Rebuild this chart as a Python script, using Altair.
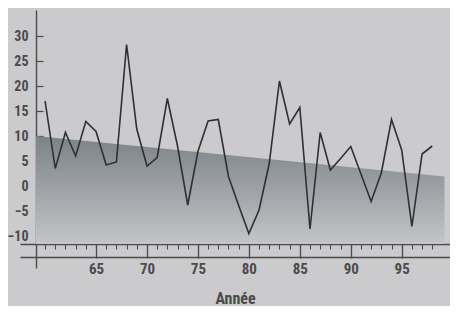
import altair as alt
import pandas as pd

# ---- data ----
years = list(range(60, 99))
values = [17.0, 3.5, 10.7, 6.0, 12.9, 10.9, 4.2, 4.8, 28.3, 11.4,
          4.0, 5.7, 17.5, 8.0, -3.8, 6.9, 13.0, 13.3, 1.9, -3.9,
          -9.5, -4.8, 4.5, 21.0, 12.4, 15.7, -8.6, 10.7, 3.2, 5.5,
          7.9, 2.4, -3.1, 2.6, 13.3, 7.2, -8.1, 6.4, 8.0]
trend_years = [59.1, 99.2]
trend_values = [10.0, 1.9]
trend_base = -11.6
major_ticks = [65, 70, 75, 80, 85, 90, 95]
minor_ticks = list(range(60, 99))
y_ticks = [30, 25, 20, 15, 10, 5, 0, -5, -10]

line_df = pd.DataFrame({"year": years, "value": values})
trend_df = pd.DataFrame({"year": trend_years, "value": trend_values})

INK = "#4a4a4a"
LABEL_FONT = ("Roboto Condensed, Noto Sans Condensed, Liberation Sans Narrow, "
              "DejaVu Sans Condensed, sans-serif")

xs = alt.Scale(domain=[57.54, 99.74], nice=False, zero=False)
ys = alt.Scale(domain=[-16.4, 35.2], nice=False, zero=False)

grad = alt.Gradient(
    gradient="linear", x1=0, y1=0, x2=0, y2=1,
    stops=[alt.GradientStop(offset=0, color="#7c8287"),
           alt.GradientStop(offset=0.55, color="#a2a6aa"),
           alt.GradientStop(offset=1, color="#c3c5c7")],
)

area = alt.Chart(trend_df).mark_area(color=grad).encode(
    x=alt.X("year:Q", scale=xs, axis=alt.Axis(
        orient="bottom", offset=-24, values=major_ticks, format="d",
        tickSize=14, tickWidth=1.3, tickColor=INK,
        domainColor=INK, domainWidth=1.4,
        labelFont=LABEL_FONT, labelFontSize=15, labelFontWeight="bold",
        labelColor=INK, labelPadding=3,
        title="Année", titleFont=LABEL_FONT, titleFontSize=16,
        titleFontWeight="bold", titleColor=INK,
        titleY=59, titleBaseline="alphabetic", grid=False)),
    y=alt.Y("value:Q", scale=ys, axis=alt.Axis(
        orient="left", offset=-16, values=y_ticks, ticks=False, tickSize=0,
        labelPadding=8, labelFont=LABEL_FONT, labelFontSize=14,
        labelFontWeight="bold", labelColor=INK,
        domainColor=INK, domainWidth=1.4, title=None, grid=False)),
    y2=alt.datum(trend_base),
)

line = alt.Chart(line_df).mark_line(color="#2e3033", strokeWidth=1.6).encode(
    x=alt.X("year:Q", scale=xs, axis=alt.Axis(
        orient="bottom", offset=-24, values=minor_ticks, tickSize=5,
        tickWidth=1.1, tickColor=INK, labels=False, domain=False,
        title=None, grid=False)),
    y=alt.Y("value:Q", scale=ys, axis=alt.Axis(
        orient="right", offset=-414, values=y_ticks, tickSize=7,
        tickWidth=1.2, tickColor=INK, labels=False, domain=False,
        title=None, grid=False)),
)

helper_low = alt.Chart(line_df).mark_point(opacity=0, size=1).encode(
    x=alt.X("year:Q", scale=xs, axis=alt.Axis(
        orient="bottom", offset=-11, ticks=False, labels=False,
        domainColor=INK, domainWidth=1.4, title=None, grid=False)),
    y=alt.Y("value:Q", scale=ys, axis=None),
)

helper_top = alt.Chart(line_df).mark_point(opacity=0, size=1).encode(
    x=alt.X("year:Q", scale=xs, axis=alt.Axis(
        orient="top", offset=-234, values=major_ticks, tickSize=4,
        tickWidth=1.3, tickColor=INK, labels=False, domain=False,
        title=None, grid=False)),
    y=alt.Y("value:Q", scale=ys, axis=None),
)

chart = alt.layer(area, line, helper_low, helper_top).resolve_axis(
    x="independent", y="independent"
).properties(
    width=430, height=258,
    autosize=alt.AutoSizeParams(type="none"),
    padding={"left": 12, "top": 2, "right": 0, "bottom": 38},
).configure(
    background="#cbcbcd",
).configure_view(stroke=None)

chart.save("out.html", embed_options={"renderer": "svg", "actions": False})
